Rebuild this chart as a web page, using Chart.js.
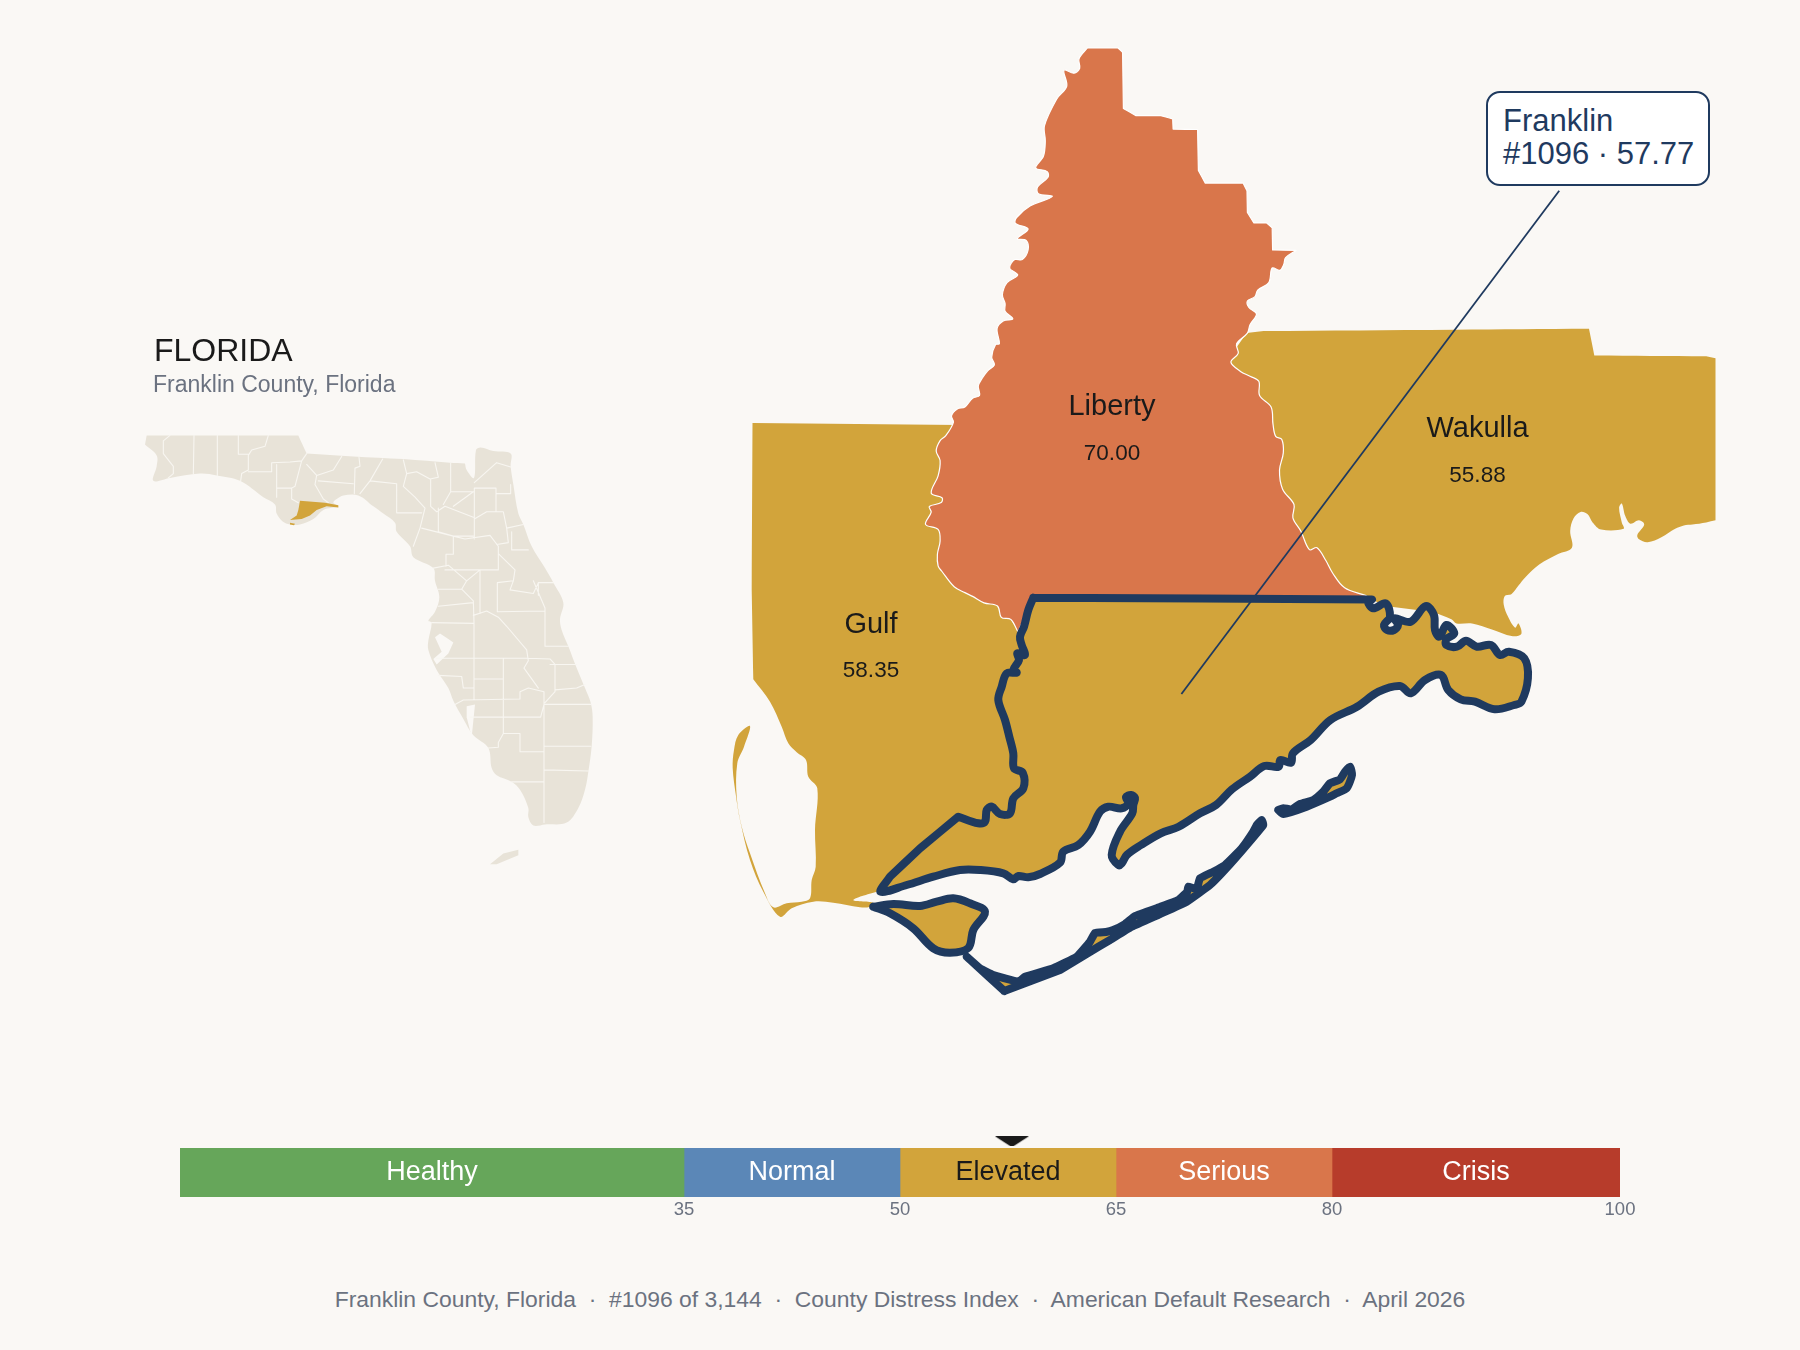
<!DOCTYPE html>
<html><head><meta charset="utf-8">
<script src="https://cdn.jsdelivr.net/npm/chart.js@4"></script>
<style>
html,body{margin:0;padding:0;background:#faf8f5;width:1800px;height:1350px;overflow:hidden;font-family:"Liberation Sans",Arial,sans-serif}
canvas{position:absolute;display:block}
.t{position:absolute;white-space:pre;line-height:1}
#title{left:154px;top:334px;font-size:32px;color:#1a1a1a}
#sub{left:153px;top:373px;font-size:23px;color:#6b7280}
#foot{left:0;width:1800px;text-align:center;top:1288px;font-size:22.9px;color:#6b7280}
#box{position:absolute;left:1486px;top:91px;width:220px;height:91px;border:2.5px solid #1f3a5f;border-radius:14px;background:#fff;box-sizing:content-box}
#c1,#c2{left:1503px;font-size:31px;color:#1f3a5f}
#c1{top:105px}#c2{top:138px}
</style></head><body>
<canvas id="inset" width="500" height="570" style="left:120px;top:310px"></canvas>
<canvas id="map" width="1040" height="1000" style="left:720px;top:30px"></canvas>
<canvas id="band" width="1500" height="107" style="left:150px;top:1130px"></canvas>
<canvas id="pointer" width="1500" height="18" style="left:150px;top:1130px"></canvas>
<div class="t" id="title">FLORIDA</div>
<div class="t" id="sub">Franklin County, Florida</div>
<div id="box"></div>
<div class="t" id="c1">Franklin</div>
<div class="t" id="c2">#1096 · 57.77</div>
<div class="t" id="foot">Franklin County, Florida  ·  #1096 of 3,144  ·  County Distress Index  ·  American Default Research  ·  April 2026</div>
<script>
// ---- score band ----
const bandNames=["Healthy","Normal","Elevated","Serious","Crisis"];
const bandWidths=[35,15,15,15,20];
const bandColors=["#66a65a","#5b87b7","#d2a43b","#d9764b","#b73c2b"];
const bandTextColors=["#ffffff","#ffffff","#1a1a1a","#ffffff","#ffffff"];
const bandTicks=[35,50,65,80,100];
const franklinScore=57.77;
// ---- neighbouring counties ----
const countyNames=["Liberty","Gulf","Wakulla"];
const countyScores=["70.00","58.35","55.88"];
const countyLabelAnchors=[[1112,415,459.5],[871,632.7,676.7],[1477.5,437,481.6]];
const libertyStairs=[[1087.4,48],[1118,48],[1122.6,52.2],[1123.4,108.5],[1136,115.7],[1160.9,115.7],[1172.7,118.8],[1173.1,129.1],[1197.6,129.5],[1198.4,170.5],[1205.3,183.1],[1243.1,183.1],[1247,190.7],[1247.4,212.5],[1253.9,222.9],[1266.5,222.9],[1272.2,227.9],[1272.6,250],[1296,250.4]];
const libertyEastRiver=[[1285.6,257.7],[1283.7,264.6],[1279.9,270.3],[1272.2,268],[1268.8,282.6],[1257.7,290.2],[1255,296.7],[1247.4,301],[1248.9,307.5],[1256.5,314],[1250,324.7],[1247.4,333.1],[1236.6,343.8],[1238.2,353.4],[1230.9,362.2],[1240.5,371.4],[1250,376.3],[1258.8,381.3],[1259.6,395.5],[1271.1,407],[1273,424.2],[1275.7,436.4],[1281.8,439.5],[1283.3,452.9],[1279.5,470.1],[1282.6,489.2],[1294,504.5],[1292.9,517.9],[1300.9,531.3],[1309.4,549.7],[1317,547.7],[1325.7,560.3],[1332.6,573],[1344.6,587.7]];
const libertyHiddenEdge=[[1365.3,595.3],[1373,600],[1032,600],[1018,632]];
const libertyWestRiver=[[1010.8,619.4],[1001.3,617.4],[997.5,606],[984,602.9],[972.6,596.4],[964.9,592.6],[954.2,586.8],[942,571.5],[938.1,565.8],[937.4,554.3],[940.1,540.9],[938.1,529.4],[925.5,524.4],[931.2,512.2],[929.3,506.5],[941.2,502.6],[942,497.7],[931.2,493.1],[938.1,475.8],[940.1,460.5],[936.2,451],[940.1,440.6],[945.8,435.7],[953.4,422.3],[951.5,415.8],[957.3,408.9],[964.9,407],[972.6,398.2],[979.5,395.5],[978.3,385.9],[982.2,378.3],[987.9,370.6],[994.4,364.9],[991.7,357.2],[995.5,344.6],[999.4,343.8],[997.1,328.5],[1003.2,320.9],[1012.8,318.9],[1005.1,311.3],[1005.1,303.6],[1002.4,294.8],[1007,282.6],[1017.7,275],[1009.7,268],[1014.7,259.6],[1022.3,259.6],[1028.1,250],[1026.2,240.5],[1017.4,238.6],[1028.1,229],[1015.4,223.3],[1016.6,217.5],[1030,206],[1052.2,196.5],[1038.4,193.8],[1037.6,186.9],[1048,177.3],[1047.2,171.6],[1035.7,167.8],[1043.4,156.3],[1045.3,141],[1044.5,125.7],[1056.8,98.9],[1066.7,86.3],[1064,70.2],[1074,73.2],[1079.7,68.3],[1079,58.7]];
const gulfLandEdge=[[753.3,679.3],[751.7,590],[752.5,423],[960,425],[1000,600],[1018,632],[1030,700],[1030,800],[1000,830],[958,830],[895,880]];
const gulfCoast=[[880.7,891.7],[876.7,891.7],[853.3,900],[873.3,902.7],[870,906.7],[860,907.3],[833.3,902.7],[813.3,901.7],[791.7,908.3],[780,916.7],[763.3,891.7],[750,860],[740,820],[736,796],[732.7,768.3],[734,750],[738.3,735],[750,726],[744,746.7],[737.3,763.3],[736.7,796.7],[741.7,826.7],[750,853.3],[765,893.3],[773.3,907.3],[786.7,903.3],[801.7,901.7],[810,898.3],[811.7,880],[815.7,866.7],[815,830],[817.3,788.3],[808.3,776.7],[806,760],[796.7,752.3],[788.3,743.3],[781.7,726.7],[770,701.7]];
const wakullaLandEdge=[[1246.5,333],[1263.7,331],[1454.8,329.7],[1589,328.8],[1594.3,355.4],[1706.2,356.2],[1715.5,358.3],[1715.5,520.3]];
const wakullaCoast=[[1706.2,522.4],[1692.4,524.5],[1683.8,525.4],[1675.2,528.8],[1661.4,537.2],[1647.7,542.2],[1639,539.3],[1637.3,535],[1644.2,524.5],[1639,520.3],[1630.4,523.7],[1625.3,516.1],[1621.8,503.5],[1619.1,507.7],[1621.8,522.4],[1623.6,528.8],[1601.2,529.6],[1592.6,522.4],[1587.4,514],[1580.5,511.9],[1573.6,518.2],[1570.2,530.9],[1571.9,547.7],[1558.1,554],[1539.2,564.5],[1525.4,577.2],[1518.5,585.6],[1511.6,594],[1504.8,596.1],[1503.7,604.5],[1508.2,617.1],[1515.1,627.7],[1518.5,623.4],[1521.3,634],[1511.6,636.1],[1492.7,629.8],[1472,623.4],[1456.5,623.4],[1451.4,619.2]];
const wakullaHiddenEdge=[[1433,612],[1385,606],[1373,600],[1365,595],[1250,590],[1200,400],[1246.5,333]];
// ---- Franklin County ----
const franklinWest=[[1033.3,597.7],[1028.3,610],[1024,626.7],[1020,636.7],[1021.7,645],[1025,655],[1017.3,653.3],[1019,660],[1013.3,670],[1016.7,672.7],[1006.7,673.3],[1001.7,686.7],[998.3,700],[1005,720],[1009.3,736.7],[1013.3,753.3],[1014,768.3],[1022.7,772.7],[1023.3,788.3],[1013.3,798.3],[1010,813.3],[1000,814],[991.7,806.7],[986.7,810],[985,821.7],[978.3,823.3]];
const franklinSouthwest=[[958.3,816.7],[920,848.3],[890,876.7]];
const franklinCoast=[[880.7,891.7],[906.7,885],[933.3,876.7],[960,870],[980,870],[1003.3,873.3],[1013.3,879.3],[1018.3,876],[1028.3,877.3],[1040,874],[1060,862.7],[1063.3,851.7],[1078.3,845],[1090,831.7],[1100,811.7],[1108.3,806.7],[1121.7,808.3],[1128.3,803.3],[1126,797],[1131,795],[1135,798],[1133.3,805],[1132.3,813.3],[1120,831.7],[1111.7,855],[1118.3,865],[1121.7,863.3],[1126.8,855],[1141,845],[1160.7,833.3],[1178.6,826.7],[1200,813.3],[1216,805],[1232,789.3],[1250,776.7],[1264.3,766],[1278.6,766.7],[1280.4,760],[1291,762.7],[1292.9,753.3],[1310.7,740],[1330.4,720],[1357,706.7],[1378.6,691.7],[1400,686],[1410.7,693.3],[1425,680],[1441,675],[1448.2,690],[1460.7,699.3],[1475,701.7],[1494.6,709.3],[1514.3,705],[1521.4,701.7],[1527.9,678.3],[1524.3,658.3],[1508.9,651.7],[1500,655],[1491,645],[1476.8,646.7],[1466,640.7],[1457,646.7],[1446.4,645],[1446.4,639.3],[1454.3,633.3],[1446.4,625],[1439.3,636.7],[1435,630],[1433.9,615],[1425.7,606],[1410.7,621.7],[1394.6,618.3],[1398,625],[1394,630],[1387,630],[1384,625],[1390,616.7],[1385.7,603.3],[1373.2,608.3],[1367.9,601.7]];
const franklinNorth=[[1372,599.5],[1033.3,597.7]];
const stVincent=[[873.3,906.7],[893.3,904],[920,906],[936.7,901.7],[953.3,898.3],[970,903.3],[985,911.7],[973.3,930],[968.3,948],[950,952.7],[933.3,948.3],[913.3,928.3],[890,913.3],[873.3,906.7]];
const stGeorgeSouth=[[1004.3,991],[1060,970],[1098,947],[1110,940],[1131.7,926.7],[1160,914],[1186.7,901.7],[1210,885],[1221.7,873.3],[1236.7,856.7],[1263.3,825]];
const stGeorgeNorth=[[1261.7,820],[1256.7,825],[1253.3,831.7],[1241.7,848.3],[1225,865],[1213.3,871.7],[1200,878.3],[1196.7,889],[1188.3,886.7],[1187.3,891.7],[1178.3,900],[1160,907],[1135,916],[1125,924],[1113.3,930],[1106,932],[1095,933],[1090,941.7],[1076.7,956.7],[1053.3,968.3],[1025,976.7],[1018.3,981.7],[993.3,975],[980,968.3],[966.7,956.7]];
const dogIsland=[[1278.3,810],[1283.3,814],[1306.7,806.7],[1330,796.7],[1336.7,793.3],[1346.7,788.3],[1352,775],[1350,766.7],[1345,771.7],[1340,779.3],[1330,783.3],[1323.3,791.7],[1313.3,800],[1300,804],[1291.7,809.3],[1283.3,808.3],[1278.3,810]];
const leader=[[1181.4,694],[1559.2,190.8]];
// ---- inset: Florida ----
const floridaNorthEdge=[[75,370],[80,345],[535,345],[560,395],[700,403],[850,410],[990,420],[1035,422]];
const floridaCoast=[[1040,440],[1062,462],[1068,385],[1082,378],[1120,388],[1172,395],[1172,430],[1180,480],[1195,560],[1210,590],[1235,650],[1275,710],[1300,750],[1330,805],[1320,850],[1325,880],[1345,925],[1370,985],[1395,1040],[1412,1080],[1418,1120],[1415,1200],[1405,1270],[1395,1320],[1375,1370],[1340,1410],[1275,1415],[1240,1418],[1225,1395],[1225,1370],[1200,1320],[1175,1298],[1130,1280],[1115,1260],[1105,1205],[1060,1170],[1030,1125],[1000,1075],[985,1040],[950,990],[925,935],[925,910],[935,860],[925,855],[945,830],[958,790],[945,745],[940,710],[880,680],[870,650],[830,610],[825,585],[790,560],[760,540],[715,510],[670,510],[650,520],[640,530],[655,540],[610,550],[580,575],[540,590],[510,590],[488,582],[470,560],[465,535],[430,515],[360,470],[290,455],[240,450],[150,462],[100,470],[110,430],[110,400]];
const floridaKeys=[[1110,1525],[1150,1495],[1195,1485],[1195,1500],[1130,1525],[1110,1525]];
const tampaBay=[[960,890],[985,905],[1000,915],[985,945],[950,975],[940,960],[965,940],[945,900],[960,890]];
const charlotteHarbor=[[1040,1090],[1065,1085],[1060,1130],[1055,1175],[1040,1120],[1040,1090]];
const floridaFranklin=[[540,525],[615,530],[655,537],[655,543],[620,540],[590,550],[570,565],[545,575],[510,578],[530,565],[535,550],[540,525]];
const floridaFranklinIsle=[[510,585],[525,588],[522,592],[510,590],[510,585]];
const floridaCountyLines=[
[150,345],[130,360],[130,395],[160,430],[160,450],[145,462],null,
[222,345],[220,452],null,[292,345],[292,455],null,[355,345],[355,397],[385,397],null,
[445,345],[435,375],[395,385],[385,400],[385,440],[365,450],[362,470],null,
[385,445],[455,445],[455,420],[510,418],[545,415],[560,395],null,
[470,425],[470,515],null,[470,490],[515,490],null,
[545,415],[525,485],[515,490],[515,520],[535,530],null,
[560,425],[590,455],null,
[665,403],[640,440],[590,455],[585,480],[610,520],[625,530],null,
[595,470],[700,478],null,
[717,405],[720,430],[705,435],[703,505],null,
[788,410],[750,470],[720,505],null,
[750,470],[830,478],[830,558],[905,558],null,
[850,412],[860,450],[850,485],[885,515],[915,545],null,
[860,450],[890,445],[930,465],[955,460],[945,420],null,
[932,465],[932,540],[950,555],[975,540],[1060,570],null,
[992,420],[992,500],[1062,500],null,[992,500],[970,535],null,[1000,540],[1060,500],null,
[1063,475],[1130,420],[1172,432],null,[1063,490],[1063,630],null,
[1063,490],[1128,490],[1128,555],null,[1128,505],[1172,505],null,[1172,480],[1172,505],null,
[1063,575],[1100,555],[1150,555],[1160,600],[1165,640],[1130,645],null,
[1160,600],[1210,590],null,[1175,610],[1175,660],[1225,660],null,
[955,545],[955,610],[1000,622],[1060,622],null,
[915,545],[900,600],[880,650],null,
[905,600],[1000,622],[1000,672],[978,672],[978,705],null,
[1000,622],[1035,630],[1110,620],[1135,650],[1135,715],[975,715],null,
[1135,670],[1185,715],[1180,745],[1132,750],[1132,830],null,
[1180,745],[1170,770],[1240,780],[1255,750],[1300,750],null,
[1240,745],[1275,820],[1275,925],null,[1255,750],[1255,785],null,
[940,710],[985,702],[1040,745],[1025,768],[955,768],null,
[1025,768],[1060,800],[1062,860],null,[1040,745],[1080,715],null,[1080,715],[1080,835],null,
[955,815],[1060,805],null,[935,860],[1062,862],null,
[1060,840],[1100,828],[1135,845],[1160,870],[1220,935],[1225,965],[1212,985],[1255,1040],null,
[1132,830],[1275,828],null,[1062,860],[1062,1070],null,[950,958],[1225,958],null,
[1225,958],[1290,960],[1305,975],[1305,1050],[1275,1080],null,
[1275,925],[1345,925],null,[1290,975],[1370,975],null,[1150,958],[1150,1120],null,
[1062,1015],[1150,1015],null,[955,1005],[1025,1008],[1030,1040],[1060,1040],null,
[1005,1085],[1030,1073],[1200,1070],[1200,1050],[1225,1040],[1272,1050],[1272,1085],[1262,1120],[1150,1120],null,
[1272,1085],[1412,1085],null,[1305,1045],[1370,1040],[1395,1030],null,[1272,1085],[1272,1410],null,
[1272,1200],[1412,1200],null,[1272,1265],[1405,1268],null,
[1150,1120],[1150,1165],[1200,1165],[1200,1215],[1272,1215],null,
[1050,1120],[1150,1120],null,[1150,1165],[1135,1190],[1135,1203],[1105,1205],null,
[1175,1298],[1272,1298]];

const BG="#faf8f5",LAND="#e8e3d8",GOLD=bandColors[2],ORANGE=bandColors[3],NAVY="#1f3a5f";
// A vertex listed twice stays a hard corner when the outline is drawn with curve tension.
const corners=a=>a.flatMap(p=>[p,p]);
const ring=a=>[...a,a[0]];
const libertyRing=ring([...corners(libertyStairs),...libertyEastRiver,...corners(libertyHiddenEdge),...libertyWestRiver]);
const gulfRing=ring([...corners(gulfLandEdge),...gulfCoast]);
const wakullaRing=ring([...corners(wakullaLandEdge),...wakullaCoast,...corners(wakullaHiddenEdge)]);
const franklinRing=[...franklinWest,...corners(franklinSouthwest),...franklinCoast,...corners(franklinNorth)];
const stGeorgeRing=ring([...corners(stGeorgeSouth.slice(0,2)),...stGeorgeSouth.slice(2),...stGeorgeNorth]);
const floridaRing=ring([...corners(floridaNorthEdge),...floridaCoast]);
const pts=a=>a.map(p=>p?{x:p[0],y:p[1]}:{x:null,y:null});
const poly=(a,fillC,line,w,extra)=>Object.assign({type:"scatter",data:pts(a),showLine:true,pointRadius:0,pointHoverRadius:0,tension:0,
  fill:fillC?"shape":false,backgroundColor:fillC||"transparent",borderColor:line||"transparent",borderWidth:w||0,
  borderJoinStyle:"round",borderCapStyle:"round"},extra||{});
const layered=l=>l.map((d,i)=>Object.assign(d,{order:l.length-i}));
const hiddenAxes=(x0,x1,y0,y1)=>({x:{type:"linear",display:false,min:x0,max:x1},y:{type:"linear",display:false,min:y0,max:y1,reverse:true}});
const base={responsive:false,animation:false,events:[],layout:{padding:0},plugins:{legend:{display:false},tooltip:{enabled:false}}};
const curve={tension:0.35};

const countyLabels={id:"countyLabels",afterDatasetsDraw(c){
  const g=c.ctx;g.save();g.textAlign="center";g.textBaseline="alphabetic";g.fillStyle="#1a1a1a";
  countyNames.forEach((n,i)=>{const [x,y1,y2]=countyLabelAnchors[i];const px=c.scales.x.getPixelForValue(x);
    g.font='29px "Liberation Sans"';g.fillText(n,px,c.scales.y.getPixelForValue(y1));
    g.font='22.5px "Liberation Sans"';g.fillText(countyScores[i],px,c.scales.y.getPixelForValue(y2));});
  g.restore();}};

new Chart(document.getElementById("inset"),{type:"scatter",data:{datasets:layered([
  poly(floridaRing,LAND,null,0,curve),poly(floridaKeys,LAND),
  poly(tampaBay,BG),poly(charlotteHarbor,BG),
  poly(floridaCountyLines,null,"#f8f6f1",1.1),
  poly(floridaFranklin,GOLD),poly(floridaFranklinIsle,GOLD)])},
  options:Object.assign({},base,{scales:hiddenAxes(0,1500,0,1568)})});

new Chart(document.getElementById("map"),{type:"scatter",data:{datasets:layered([
  poly(gulfRing,GOLD,null,0,curve),poly(wakullaRing,GOLD,null,0,curve),poly(libertyRing,ORANGE,"#ffffff",1.2,curve),
  poly(franklinRing,GOLD,NAVY,8,curve),poly(stVincent,GOLD,NAVY,8,curve),poly(stGeorgeRing,GOLD,NAVY,8,{tension:0.1}),poly(dogIsland,GOLD,NAVY,8,{tension:0.2}),
  poly(leader,null,NAVY,1.8,{borderCapStyle:"butt"})])},
  options:Object.assign({},base,{scales:hiddenAxes(720,1760,30,1030)}),plugins:[countyLabels]});

const bandLabels={id:"bandLabels",afterDatasetsDraw(c){
  const g=c.ctx;g.save();g.font='27px "Liberation Sans"';g.textAlign="center";g.textBaseline="alphabetic";
  bandNames.forEach((n,i)=>{const b=c.getDatasetMeta(i).data[0];g.fillStyle=bandTextColors[i];
    g.fillText(n,(b.base+b.x)/2,b.y+7.5);});g.restore();}};

new Chart(document.getElementById("band"),{type:"bar",data:{labels:["Index"],datasets:
  bandNames.map((n,i)=>({label:n,data:[bandWidths[i]],backgroundColor:bandColors[i],borderWidth:0,barPercentage:1,categoryPercentage:1,grouped:false}))
 },options:Object.assign({},base,{indexAxis:"y",layout:{padding:{left:30,right:30,top:18,bottom:0}},
 scales:{
  x:{type:"linear",stacked:true,min:0,max:100,position:"bottom",grid:{display:false,drawTicks:false},border:{display:false},
     afterBuildTicks(s){s.ticks=bandTicks.map(v=>({value:v}));},afterFit(s){s.height=40;},
     ticks:{autoSkip:false,maxRotation:0,padding:2,color:"#6b7280",font:{family:"Liberation Sans",size:18.5}}},
  y:{type:"category",stacked:true,display:false}
 }}),plugins:[bandLabels]});

const marker=document.createElement("canvas");marker.width=34;marker.height=11;
(g=>{g.fillStyle="#1a1a1a";g.beginPath();g.moveTo(0,0);g.lineTo(34,0);g.lineTo(17,11);g.closePath();g.fill();})(marker.getContext("2d"));
new Chart(document.getElementById("pointer"),{type:"scatter",data:{datasets:[
  {label:"Franklin",data:[{x:franklinScore,y:0.305}],pointStyle:marker,pointRadius:1,pointHoverRadius:1}]},
  options:Object.assign({},base,{layout:{padding:{left:30,right:30,top:0,bottom:0}},
  scales:{x:{type:"linear",display:false,min:0,max:100},y:{type:"linear",display:false,min:0,max:1}}})});
</script>
</body></html>
